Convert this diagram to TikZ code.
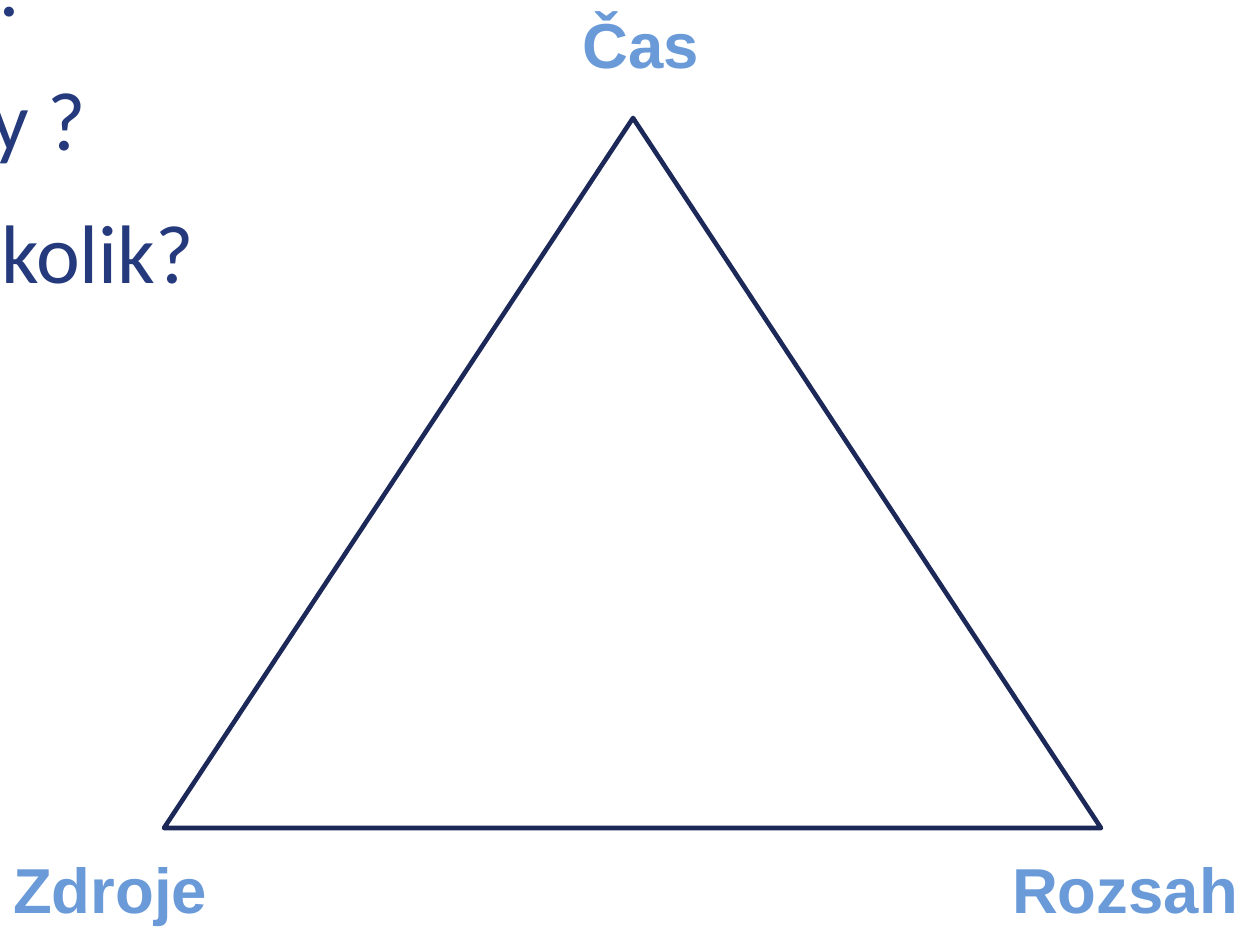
\documentclass[tikz,border=0pt]{standalone}
\usepackage{fontspec}
\setmainfont{Carlito}
\newfontfamily\labelfont{Liberation Sans}
\definecolor{txtblue}{HTML}{253A7D}
\definecolor{lblblue}{HTML}{6A9BD8}
\definecolor{triblue}{HTML}{1B2858}
\begin{document}
\begin{tikzpicture}[x=1pt,y=-1pt,
  lbl/.style={inner sep=0pt,text=lblblue,font=\labelfont\bfseries\fontsize{63.5}{70}\selectfont},
  body/.style={inner sep=0pt,text=txtblue,font=\fontsize{83}{95}\selectfont},
  edge/.style={draw=triblue,line width=4.6pt,line join=round,line cap=round}]
\useasboundingbox (0,0) rectangle (1241,929);
\clip (0,0) rectangle (1241,929);
\fill[white] (0,0) rectangle (1241,929);
% partial text at left
\node[body,anchor=base west] (q1) at (-8,16) {?};
\node[body,anchor=base west] (q2) at (-9,150) {y ?};
\node[body,anchor=base west] (q3) at (1,283) {kolik?};
% triangle
\coordinate (top) at (633,118);
\coordinate (bl) at (164,828);
\coordinate (br) at (1101,828);
\draw[edge] (top) -- (br) -- (bl) -- cycle;
% labels
\node[lbl,anchor=base] (cas) at (641,68) {Čas};
\node[lbl,anchor=base west] (zdroje) at (13,913) {Zdroje};
\node[lbl,anchor=base east] (rozsah) at (1238,913) {Rozsah};
\end{tikzpicture}
\end{document}
